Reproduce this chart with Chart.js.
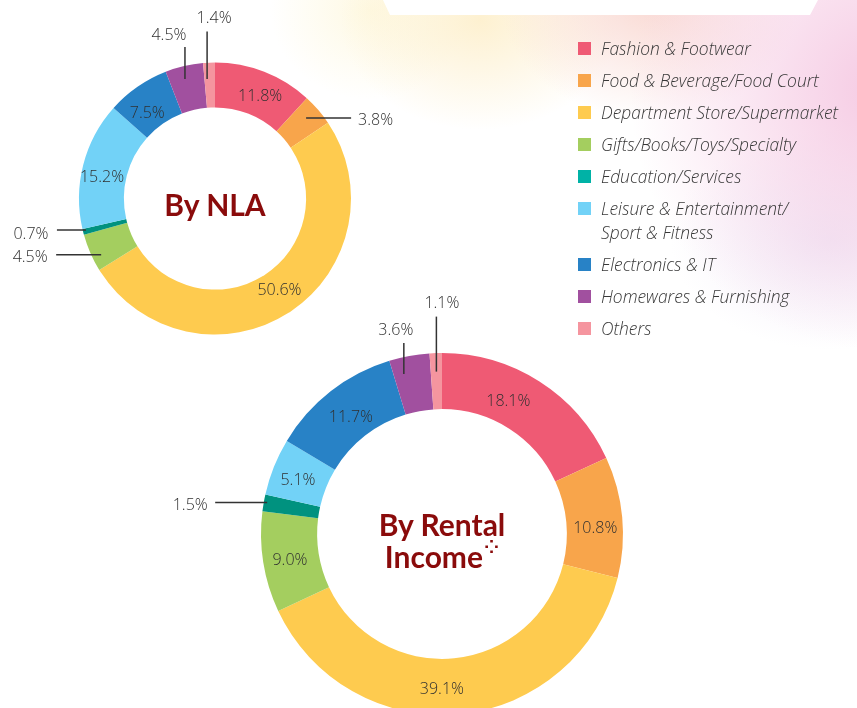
<!DOCTYPE html>
<html><head><meta charset="utf-8">
<script src="https://cdn.jsdelivr.net/npm/chart.js@4/dist/chart.umd.min.js"></script>
<style>
html,body{margin:0;padding:0;width:857px;height:708px;overflow:hidden;background:#fff;}
#bg{position:absolute;left:0;top:0;width:857px;height:708px;
background:
 radial-gradient(ellipse 250px 260px at 880px 90px, rgba(245,200,226,0.95), rgba(245,200,226,0) 100%),
 radial-gradient(ellipse 150px 120px at 650px 0px, rgba(248,208,200,0.8), rgba(248,208,200,0) 100%),
 radial-gradient(ellipse 140px 110px at 480px 20px, rgba(253,238,200,0.85), rgba(253,238,200,0) 100%),
 radial-gradient(ellipse 100px 90px at 370px 10px, rgba(254,248,222,0.85), rgba(254,248,222,0) 100%),
 radial-gradient(ellipse 160px 110px at 830px 240px, rgba(236,228,245,0.7), rgba(236,228,245,0) 100%);}
#topbox{position:absolute;left:383px;top:0;width:435px;height:15px;background:#fff;
clip-path:polygon(0 0,100% 0,calc(100% - 8px) 100%,7px 100%);}
canvas{position:absolute;left:0;top:0;}
.ctitle{position:absolute;font-family:Lato,"Open Sans",sans-serif;font-weight:700;color:#8a0b0b;font-size:30px;line-height:32px;text-align:center;white-space:nowrap;}
.ctitle sup{font-family:"DejaVu Sans",sans-serif;font-weight:700;font-size:18px;line-height:12px;vertical-align:top;position:relative;top:1px;margin-left:1px;}
#legend{position:absolute;left:578px;top:36px;margin:0;padding:0;list-style:none;font-family:"Open Sans",sans-serif;font-style:italic;font-weight:300;font-size:17.4px;color:#383838;}
#legend li{position:relative;padding-left:23px;line-height:24px;margin-bottom:8px;white-space:pre-line;}
#legend li span{position:absolute;left:0;top:5.5px;width:13px;height:13px;}
</style></head><body>
<div id="bg"></div>
<div id="topbox"></div>
<canvas id="c1" width="857" height="708"></canvas>
<canvas id="c2" width="857" height="740"></canvas>
<div class="ctitle" style="left:115px;width:200px;top:188px;">By NLA</div>
<div class="ctitle" style="left:342px;width:200px;top:508px;">By Rental<br>Income<sup>⁘</sup></div>
<ul id="legend"></ul>
<script>
const categories = ["Fashion & Footwear","Food & Beverage/Food Court","Department Store/Supermarket","Gifts/Books/Toys/Specialty","Education/Services","Leisure & Entertainment/\nSport & Fitness","Electronics & IT","Homewares & Furnishing","Others"];
const nlaValues = [11.8, 3.8, 50.6, 4.5, 0.7, 15.2, 7.5, 4.5, 1.4];
const rentalValues = [18.1, 10.8, 39.1, 9.0, 1.5, 5.1, 11.7, 3.6, 1.1];
const colors = ["#EF5A74","#F8A54B","#FECB4F","#A4CE5F","#00927F","#72D2F7","#2882C6","#A1509F","#F5959F"];
const legendColors = ["#EF5A74","#F8A54B","#FECB4F","#A4CE5F","#00B2A6","#72D2F7","#2882C6","#A1509F","#F5959F"];

// label styling: leader-line callouts for small slices, small nudges for inside labels
const nlaCallouts = {
  1:{dir:'right',len:45,at:0.68,af:0.44,tx:7,ty:2},
  3:{dir:'left',len:45,at:0.80,af:0.33,tx:-8.5,ty:2},
  4:{dir:'left',len:29,at:0.93,af:0.70,tx:-8.5,ty:3},
  7:{dir:'up',len:32,at:0.715,af:0.44,tx:-16,ty:-13},
  8:{dir:'up',len:47.5,at:0.64,af:0.25,tx:7,ty:-14}
};
const nlaNudges = {0:[4,3],2:[3,-5],5:[-3,6],6:[-3,7]};
const rentalCallouts = {
  4:{dir:'left',len:52,at:0.94,af:0.56,tx:-7.5,ty:2},
  7:{dir:'up',len:31,at:0.705,af:0.27,tx:-8,ty:-14},
  8:{dir:'up',len:55,at:0.67,af:0.5,tx:5.5,ty:-14}
};
const rentalNudges = {0:[-16,-5],1:[1,8],2:[-15,2],3:[-1,2],5:[-2,2],6:[3,3]};

const lg = document.getElementById('legend');
categories.forEach((c,i)=>{const li=document.createElement('li');const s=document.createElement('span');s.style.background=legendColors[i];li.appendChild(s);li.appendChild(document.createTextNode(c));lg.appendChild(li);});

const labelPlugin = {
  id:'sliceLabels',
  afterDatasetsDraw(chart, args, opts){
    const ctx = chart.ctx;
    const meta = chart.getDatasetMeta(0);
    const vals = chart.data.datasets[0].data;
    const call = opts.callouts || {};
    const nudge = opts.nudges || {};
    ctx.save();
    ctx.font = '300 16px "Open Sans", sans-serif';
    ctx.fillStyle = '#303030';
    meta.data.forEach((arc,i)=>{
      const p = arc.getProps(['x','y','startAngle','endAngle','innerRadius','outerRadius'], true);
      const txt = vals[i].toFixed(1)+'%';
      const c = call[i];
      if(!c){
        const mid = (p.startAngle+p.endAngle)/2;
        const r = (p.innerRadius+p.outerRadius)/2;
        const n = nudge[i] || [0,0];
        ctx.textAlign='center'; ctx.textBaseline='middle';
        ctx.fillText(txt, p.x+Math.cos(mid)*r+n[0], p.y+Math.sin(mid)*r+1+n[1]);
      } else {
        const a = p.startAngle + (c.af==null?0.5:c.af)*(p.endAngle-p.startAngle);
        const r = p.innerRadius + c.at*(p.outerRadius-p.innerRadius);
        const sx = p.x+Math.cos(a)*r, sy = p.y+Math.sin(a)*r;
        let ex=sx, ey=sy;
        if(c.dir==='right') ex = sx + c.len;
        else if(c.dir==='left') ex = sx - c.len;
        else ey = sy - c.len;
        ctx.strokeStyle='#333'; ctx.lineWidth=1.5;
        ctx.beginPath(); ctx.moveTo(sx,sy); ctx.lineTo(ex,ey); ctx.stroke();
        ctx.textBaseline='middle';
        ctx.textAlign = c.dir==='right' ? 'left' : (c.dir==='left' ? 'right' : 'center');
        ctx.fillText(txt, ex+c.tx, ey+c.ty+1);
      }
    });
    ctx.restore();
  }
};

function makeChart(id, values, cutout, padding, callouts, nudges){
  return new Chart(document.getElementById(id), {
    type:'doughnut',
    data:{labels:categories, datasets:[{data:values, backgroundColor:colors, borderWidth:0}]},
    options:{
      responsive:false, animation:false, cutout:cutout,
      layout:{padding:padding},
      plugins:{legend:{display:false}, tooltip:{enabled:false}, sliceLabels:{callouts:callouts, nudges:nudges}}
    },
    plugins:[labelPlugin]
  });
}
makeChart('c1', nlaValues, '67%', {left:79,right:506,top:62.5,bottom:373.5}, nlaCallouts, nlaNudges);
makeChart('c2', rentalValues, '69%', {left:261,right:234,top:353,bottom:25}, rentalCallouts, rentalNudges);
</script>
</body></html>
